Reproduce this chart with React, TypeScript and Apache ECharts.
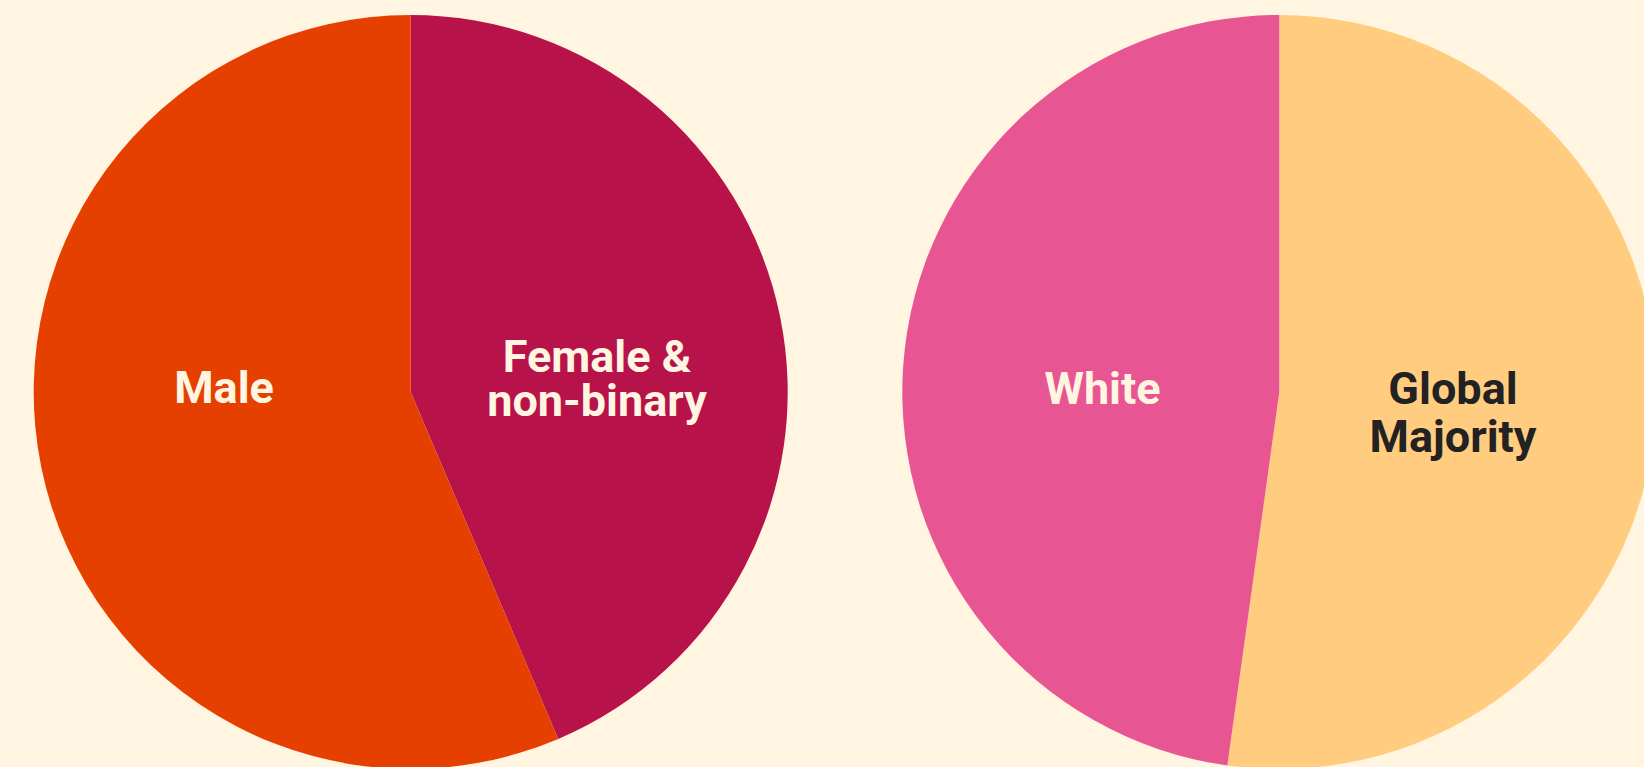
import React, { useEffect, useRef } from "react";
import * as echarts from "echarts";

const genderCategories = ["Female &\nnon-binary", "Male"];
const genderValues = [43.6, 56.4];
const genderColors = ["#B8124A", "#E64000"];

const ethnicityCategories = ["Global\nMajority", "White"];
const ethnicityValues = [52.2, 47.8];
const ethnicityColors = ["#FFCC80", "#E85593"];

const BG = "#FFF5E1";
const CREAM = "#FFF5E1";
const DARK = "#222222";
const FONT = "Roboto, Inter, 'Noto Sans', sans-serif";

export default function App() {
  const ref = useRef<HTMLDivElement>(null);
  useEffect(() => {
    if (!ref.current) return;
    const chart = echarts.init(ref.current, undefined, { renderer: "svg" });
    const makeData = (cats: string[], vals: number[], cols: string[]) =>
      cats.map((c, i) => ({ name: c, value: vals[i], itemStyle: { color: cols[i] } }));
    const lineEls = (label: string, x: number, ys: number[], fill: string) =>
      label.split("\n").map((line, i) => ({
        type: "text",
        x,
        y: ys[i],
        z: 100,
        silent: true,
        style: {
          text: line,
          fill,
          fontFamily: FONT,
          fontSize: 45,
          lineHeight: 42,
          fontWeight: "bold",
          align: "center",
          verticalAlign: "middle",
        },
      }));
    chart.setOption({
      animation: false,
      backgroundColor: BG,
      series: [
        {
          type: "pie",
          center: [410.7, 392],
          radius: [0, 377],
          startAngle: 90,
          clockwise: true,
          label: { show: false },
          labelLine: { show: false },
          emphasis: { disabled: true },
          silent: true,
          z: 1,
          itemStyle: { borderWidth: 0 },
          data: makeData(genderCategories, genderValues, genderColors),
        },
        {
          type: "pie",
          center: [1279.3, 392],
          radius: [0, 377],
          startAngle: 90,
          clockwise: true,
          label: { show: false },
          labelLine: { show: false },
          emphasis: { disabled: true },
          silent: true,
          z: 1,
          itemStyle: { borderWidth: 0 },
          data: makeData(ethnicityCategories, ethnicityValues, ethnicityColors),
        },
      ],
      graphic: {
        elements: [
          ...lineEls(genderCategories[1], 224, [387.5], CREAM),
          ...lineEls(genderCategories[0], 597, [356.7, 400.7], CREAM),
          ...lineEls(ethnicityCategories[1], 1102.5, [388.2], CREAM),
          ...lineEls(ethnicityCategories[0], 1453, [388, 436.5], DARK),
        ],
      },
    });
    return () => chart.dispose();
  }, []);
  return (
    <div
      ref={ref}
      style={{ position: "fixed", left: 0, top: 0, width: 1644, height: 767, background: BG }}
    />
  );
}
